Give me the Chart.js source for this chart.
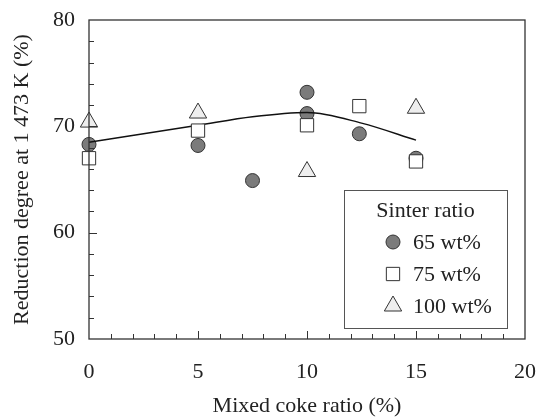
<!DOCTYPE html>
<html>
<head>
<meta charset="utf-8">
<script src="https://cdn.jsdelivr.net/npm/chart.js@4.4.1/dist/chart.umd.min.js"></script>
<style>
  html, body { margin: 0; padding: 0; background: #fff; }
  #wrap { width: 540px; height: 419px; }
</style>
</head>
<body>
<div id="wrap"><canvas id="reductionChart" width="540" height="419"></canvas></div>
<script>
// values: mixed coke ratio (%) vs reduction degree (%)
const coke65 = [0, 5, 7.5, 10, 10, 12.4, 15];
const red65 = [68.3, 68.2, 64.9, 73.2, 71.2, 69.3, 67.0];

const coke75 = [0, 5, 10, 12.4, 15];
const red75 = [67.0, 69.6, 70.1, 71.9, 66.7];

const coke100 = [0, 5, 10, 15];
const red100 = [70.4, 71.25, 65.75, 71.7];

// hand-drawn trend curve
const trendX = [0, 5, 7.5, 10, 12.5, 15];
const trendY = [68.5, 70.1, 70.9, 71.3, 70.3, 68.7];

const seriesLabels = ['65 wt%', '75 wt%', '100 wt%'];
const legendTitle = 'Sinter ratio';

const FONT = "'Liberation Serif', 'Times New Roman', serif";
const INK = '#222';

const toPoints = (xs, ys) => xs.map((x, i) => ({ x: x, y: ys[i] }));

const markers = [
    { pointStyle: 'circle', radius: 7, fill: '#7b7b7b' },
    { pointStyle: 'rect', radius: 9.4, fill: '#ffffff' },
    { pointStyle: 'triangle', radius: 10, fill: '#eeeeee' },
];

// frame, inward tick marks and the boxed legend
const decorations = {
    id: 'decorations',
    afterDraw(chart) {
        const { ctx, chartArea: a, scales } = chart;
        ctx.save();
        ctx.strokeStyle = '#333';
        ctx.lineWidth = 1.3;
        ctx.strokeRect(a.left, a.top, a.right - a.left, a.bottom - a.top);

        ctx.lineWidth = 1;
        ctx.beginPath();
        for (let v = 1; v < 20; v++) {
            const px = Math.round(scales.x.getPixelForValue(v)) + 0.5;
            const len = v % 5 === 0 ? 8 : 5;
            ctx.moveTo(px, a.bottom);
            ctx.lineTo(px, a.bottom - len);
        }
        for (let v = 52; v < 80; v += 2) {
            const py = Math.round(scales.y.getPixelForValue(v)) + 0.5;
            const len = v % 10 === 0 ? 8 : 5;
            ctx.moveTo(a.left, py);
            ctx.lineTo(a.left + len, py);
        }
        ctx.stroke();

        // legend box
        const bx = 344, by = 190, bw = 163, bh = 138;
        ctx.strokeStyle = '#555';
        ctx.lineWidth = 1;
        ctx.strokeRect(bx + 0.5, by + 0.5, bw, bh);

        ctx.fillStyle = INK;
        ctx.font = '22px ' + FONT;
        ctx.textBaseline = 'alphabetic';
        ctx.textAlign = 'center';
        ctx.fillText(legendTitle, bx + bw / 2, by + 27);

        ctx.textAlign = 'left';
        seriesLabels.forEach((label, i) => {
            const cy = by + 52 + i * 32;
            const m = markers[i];
            ctx.fillStyle = m.fill;
            ctx.strokeStyle = '#333';
            ctx.lineWidth = 1;
            Chart.helpers.drawPoint(ctx, { pointStyle: m.pointStyle, radius: m.radius, rotation: 0, borderWidth: 1 }, 393, cy);
            ctx.fillStyle = INK;
            ctx.fillText(label, 413, cy + 7);
        });
        ctx.restore();
    }
};

new Chart(document.getElementById('reductionChart'), {
    type: 'scatter',
    data: {
        datasets: [
            {
                label: seriesLabels[2],
                data: toPoints(coke100, red100),
                pointStyle: markers[2].pointStyle,
                pointRadius: markers[2].radius,
                backgroundColor: markers[2].fill,
                borderColor: '#333',
                borderWidth: 1,
                clip: false,
                order: 0,
            },
            {
                label: seriesLabels[1],
                data: toPoints(coke75, red75),
                pointStyle: markers[1].pointStyle,
                pointRadius: markers[1].radius,
                backgroundColor: markers[1].fill,
                borderColor: '#333',
                borderWidth: 1,
                clip: false,
                order: 1,
            },
            {
                label: 'trend',
                type: 'line',
                data: toPoints(trendX, trendY),
                borderColor: '#111',
                borderWidth: 1.4,
                pointRadius: 0,
                fill: false,
                cubicInterpolationMode: 'monotone',
                clip: false,
                order: 2,
            },
            {
                label: seriesLabels[0],
                data: toPoints(coke65, red65),
                pointStyle: markers[0].pointStyle,
                pointRadius: markers[0].radius,
                backgroundColor: markers[0].fill,
                borderColor: '#333',
                borderWidth: 1,
                clip: false,
                order: 3,
            },
        ],
    },
    options: {
        responsive: false,
        animation: false,
        layout: { padding: { top: 20, right: 15, left: 0, bottom: 0 } },
        plugins: {
            legend: { display: false },
            tooltip: { enabled: false },
        },
        scales: {
            x: {
                type: 'linear',
                min: 0,
                max: 20,
                afterFit: (scale) => {
                    scale.height = 80;
                    scale.paddingLeft = 0;
                    scale.paddingRight = 0;
                },
                grid: { display: false, drawTicks: false },
                border: { display: false },
                ticks: {
                    stepSize: 5,
                    padding: 20,
                    color: INK,
                    font: { family: FONT, size: 22 },
                },
                title: {
                    display: true,
                    text: 'Mixed coke ratio (%)',
                    color: INK,
                    padding: { top: 0, bottom: 0 },
                    font: { family: FONT, size: 22 },
                },
            },
            y: {
                type: 'linear',
                min: 50,
                max: 80,
                afterFit: (scale) => {
                    scale.width = 89;
                    scale.paddingTop = 0;
                    scale.paddingBottom = 0;
                },
                grid: { display: false, drawTicks: false },
                border: { display: false },
                ticks: {
                    stepSize: 10,
                    padding: 14,
                    color: INK,
                    font: { family: FONT, size: 22 },
                },
                title: {
                    display: true,
                    text: 'Reduction degree at 1 473 K (%)',
                    color: INK,
                    padding: { top: 9, bottom: 0 },
                    font: { family: FONT, size: 22 },
                },
            },
        },
    },
    plugins: [decorations],
});
</script>
</body>
</html>
